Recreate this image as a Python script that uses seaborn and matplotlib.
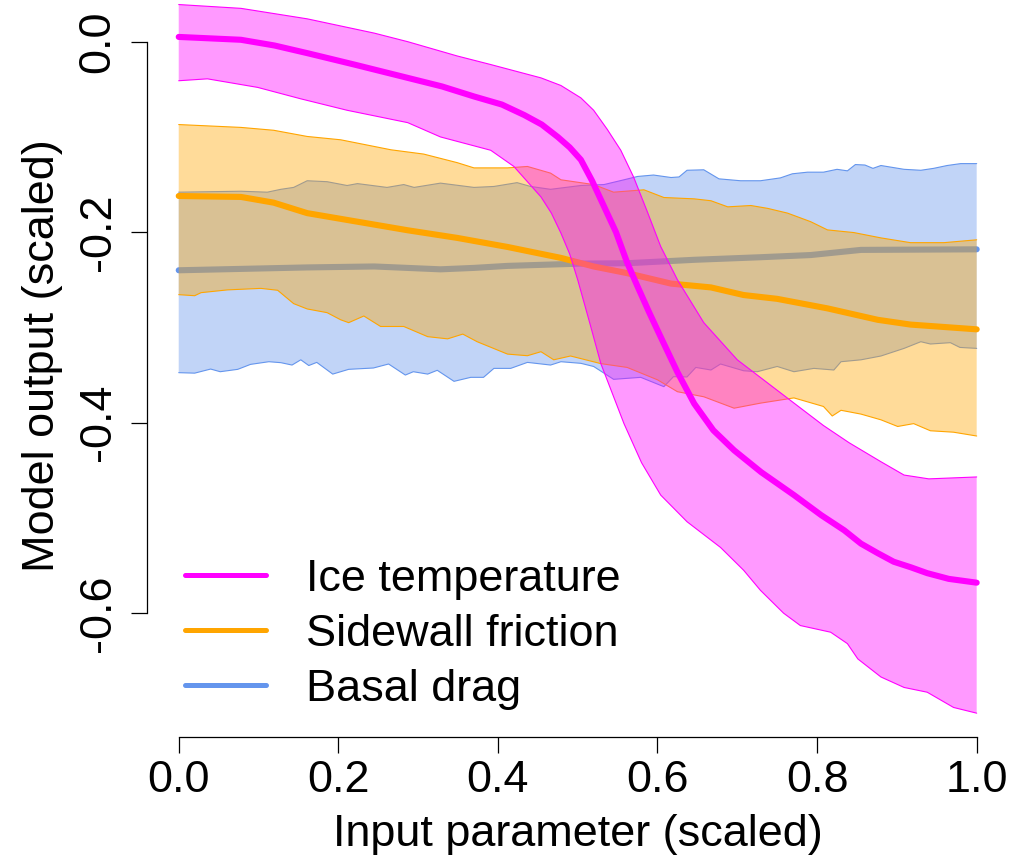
import numpy as np
import matplotlib
matplotlib.use("Agg")
import matplotlib.pyplot as plt
from matplotlib.lines import Line2D
from matplotlib.colors import to_rgba
import seaborn as sns

# ---------------- data ----------------
# Ice temperature
ice_mean_x = [0.0, 0.078, 0.120, 0.161, 0.220, 0.287, 0.330, 0.370, 0.405, 0.433, 0.455, 0.475,
              0.490, 0.504, 0.518, 0.533, 0.548, 0.562, 0.575, 0.590, 0.604, 0.625, 0.646, 0.670,
              0.696, 0.730, 0.771, 0.805, 0.834, 0.855, 0.876, 0.896, 0.918, 0.938, 0.965, 1.0]
ice_mean_y = [0.005, 0.002, -0.004, -0.012, -0.024, -0.038, -0.047, -0.0575, -0.066, -0.077, -0.087, -0.100,
              -0.111, -0.124, -0.146, -0.173, -0.200, -0.232, -0.257, -0.285, -0.310, -0.347, -0.380, -0.408,
              -0.429, -0.452, -0.476, -0.497, -0.513, -0.527, -0.537, -0.546, -0.552, -0.558, -0.564, -0.568]
ice_upper_x = [0.0, 0.078, 0.161, 0.245, 0.287, 0.349, 0.391, 0.454, 0.479, 0.504, 0.520, 0.537,
               0.554, 0.570, 0.587, 0.604, 0.625, 0.658, 0.700, 0.750, 0.808, 0.840, 0.880, 0.909,
               0.940, 1.0]
ice_upper_y = [0.039, 0.035, 0.024, 0.009, 0.000, -0.015, -0.024, -0.038, -0.046, -0.059, -0.072, -0.092,
               -0.114, -0.142, -0.178, -0.215, -0.250, -0.295, -0.334, -0.366, -0.403, -0.421, -0.441, -0.455,
               -0.459, -0.457]
ice_lower_x = [0.0, 0.036, 0.099, 0.153, 0.211, 0.287, 0.328, 0.391, 0.420, 0.454, 0.467, 0.479,
               0.490, 0.500, 0.515, 0.529, 0.558, 0.580, 0.604, 0.637, 0.679, 0.708, 0.729, 0.758,
               0.779, 0.817, 0.838, 0.851, 0.880, 0.909, 0.938, 0.971, 1.0]
ice_lower_y = [-0.041, -0.039, -0.048, -0.060, -0.072, -0.085, -0.100, -0.114, -0.131, -0.163, -0.180, -0.201,
               -0.223, -0.250, -0.295, -0.338, -0.401, -0.442, -0.476, -0.504, -0.531, -0.555, -0.576, -0.600,
               -0.613, -0.620, -0.632, -0.648, -0.667, -0.678, -0.683, -0.699, -0.705]

# Sidewall friction
side_mean_x = [0.0, 0.078, 0.119, 0.161, 0.224, 0.287, 0.349, 0.412, 0.479, 0.520, 0.562,
               0.617, 0.667, 0.708, 0.750, 0.813, 0.876, 0.917, 1.0]
side_mean_y = [-0.162, -0.163, -0.169, -0.180, -0.189, -0.198, -0.206, -0.2155, -0.227, -0.236, -0.243,
               -0.254, -0.258, -0.266, -0.270, -0.280, -0.292, -0.297, -0.302]
side_upper_x = [0.0, 0.078, 0.119, 0.161, 0.203, 0.245, 0.266, 0.307, 0.349, 0.370, 0.412, 0.437,
                0.466, 0.479, 0.520, 0.545, 0.583, 0.608, 0.646, 0.667, 0.688, 0.717, 0.738, 0.763,
                0.792, 0.813, 0.846, 0.880, 0.917, 0.959, 1.0]
side_upper_y = [-0.087, -0.090, -0.093, -0.0995, -0.103, -0.110, -0.1135, -0.118, -0.127, -0.1325, -0.1325, -0.131,
                -0.138, -0.145, -0.150, -0.158, -0.1555, -0.1636, -0.165, -0.167, -0.1734, -0.172, -0.175, -0.180,
                -0.189, -0.1976, -0.2004, -0.206, -0.211, -0.211, -0.208]
side_lower_x = [0.0, 0.020, 0.028, 0.061, 0.103, 0.124, 0.144, 0.161, 0.186, 0.203, 0.213, 0.232,
                0.253, 0.282, 0.312, 0.337, 0.356, 0.374, 0.412, 0.437, 0.454, 0.470, 0.491, 0.529,
                0.562, 0.600, 0.625, 0.658, 0.696, 0.729, 0.771, 0.808, 0.819, 0.830, 0.855, 0.880,
                0.901, 0.921, 0.942, 0.971, 1.0]
side_lower_y = [-0.2656, -0.2667, -0.2635, -0.2606, -0.259, -0.261, -0.275, -0.2806, -0.2845, -0.292, -0.295, -0.288,
                -0.299, -0.299, -0.3097, -0.312, -0.307, -0.315, -0.328, -0.3297, -0.3255, -0.334, -0.330, -0.338,
                -0.342, -0.355, -0.3675, -0.3728, -0.3848, -0.3795, -0.374, -0.383, -0.393, -0.387, -0.391, -0.397,
                -0.404, -0.401, -0.4085, -0.410, -0.414]

# Basal drag
basal_mean_x = [0.0, 0.161, 0.245, 0.328, 0.370, 0.412, 0.504, 0.562, 0.646, 0.729, 0.792, 0.855, 1.0]
basal_mean_y = [-0.240, -0.237, -0.236, -0.239, -0.2375, -0.2354, -0.233, -0.2326, -0.229, -0.2263, -0.224,
                -0.2186, -0.218]
basal_upper_x = [0.0, 0.078, 0.111, 0.128, 0.144, 0.161, 0.186, 0.211, 0.224, 0.261, 0.282, 0.295,
                 0.328, 0.370, 0.395, 0.424, 0.441, 0.466, 0.504, 0.533, 0.558, 0.575, 0.595, 0.617,
                 0.627, 0.637, 0.658, 0.677, 0.704, 0.729, 0.754, 0.769, 0.788, 0.808, 0.825, 0.838,
                 0.848, 0.860, 0.870, 0.880, 0.909, 0.930, 0.946, 0.963, 0.980, 1.0]
basal_upper_y = [-0.158, -0.157, -0.158, -0.155, -0.153, -0.146, -0.147, -0.151, -0.149, -0.153, -0.150, -0.153,
                 -0.1485, -0.153, -0.152, -0.148, -0.152, -0.155, -0.151, -0.150, -0.145, -0.1415, -0.140, -0.1426,
                 -0.142, -0.135, -0.1345, -0.144, -0.146, -0.146, -0.143, -0.1387, -0.137, -0.137, -0.134, -0.1356,
                 -0.129, -0.1295, -0.133, -0.130, -0.134, -0.135, -0.133, -0.130, -0.128, -0.128]
basal_lower_x = [0.0, 0.020, 0.040, 0.052, 0.074, 0.090, 0.113, 0.128, 0.142, 0.153, 0.163, 0.173,
                 0.193, 0.213, 0.244, 0.263, 0.284, 0.294, 0.312, 0.324, 0.345, 0.366, 0.382, 0.395,
                 0.416, 0.437, 0.466, 0.479, 0.504, 0.520, 0.545, 0.579, 0.608, 0.620, 0.637, 0.648,
                 0.667, 0.679, 0.708, 0.725, 0.750, 0.771, 0.796, 0.821, 0.830, 0.855, 0.880, 0.909,
                 0.930, 0.942, 0.967, 0.979, 1.0]
basal_lower_y = [-0.3475, -0.348, -0.3437, -0.3465, -0.344, -0.3388, -0.336, -0.337, -0.3395, -0.334, -0.340, -0.3367,
                 -0.349, -0.344, -0.3426, -0.3384, -0.350, -0.3465, -0.349, -0.345, -0.3566, -0.3524, -0.3524, -0.343,
                 -0.343, -0.3367, -0.3395, -0.336, -0.3377, -0.341, -0.3545, -0.3524, -0.3622, -0.3517, -0.352, -0.342,
                 -0.3447, -0.3384, -0.3455, -0.3465, -0.341, -0.3465, -0.343, -0.3447, -0.336, -0.334, -0.330, -0.322,
                 -0.315, -0.3174, -0.316, -0.321, -0.322]

series_names = ["Ice temperature", "Sidewall friction", "Basal drag"]
x_ticks = [0.0, 0.2, 0.4, 0.6, 0.8, 1.0]
y_ticks = [-0.6, -0.4, -0.2, 0.0]
x_label = "Input parameter (scaled)"
y_label = "Model output (scaled)"

# ---------------- style ----------------
sns.set_style("ticks")
plt.rcParams["font.family"] = ["Liberation Sans", "DejaVu Sans"]
for k in ["text.color", "axes.labelcolor", "xtick.color", "ytick.color", "axes.edgecolor"]:
    plt.rcParams[k] = "black"
FS = 32.4
C_ICE = "#FF00FF"
C_SIDE = "#FFA500"
C_BASAL = "#6495ED"

W, H = 1019, 859
fig = plt.figure(figsize=(W / 100, H / 100), dpi=100)
# plot region in pixels (R style, top of region extends above the figure)
left_px, right_px = 146.8, 1008.6
bottom_px, top_px = 736.6, -24.6
ax = fig.add_axes([left_px / W, (H - bottom_px) / H,
                   (right_px - left_px) / W, (bottom_px - top_px) / H])
ax.set_xlim(-0.04, 1.04)
ax.set_ylim(-0.7296, 0.0696)

def band(xu, yu, xl, yl, mx, my, col):
    px = np.concatenate([xu, xl[::-1]])
    py = np.concatenate([yu, yl[::-1]])
    ax.fill(px, py, facecolor=to_rgba(col, 0.4), edgecolor="none", zorder=2)
    sns.lineplot(x=xu, y=yu, ax=ax, color=col, linewidth=0.8, zorder=2)
    sns.lineplot(x=xl, y=yl, ax=ax, color=col, linewidth=0.8, zorder=2)
    sns.lineplot(x=mx, y=my, ax=ax, color=col, linewidth=4.4, zorder=2,
                 solid_capstyle="round", solid_joinstyle="round")

band(np.array(basal_upper_x), np.array(basal_upper_y), np.array(basal_lower_x), np.array(basal_lower_y),
     np.array(basal_mean_x), np.array(basal_mean_y), C_BASAL)
band(np.array(side_upper_x), np.array(side_upper_y), np.array(side_lower_x), np.array(side_lower_y),
     np.array(side_mean_x), np.array(side_mean_y), C_SIDE)
band(np.array(ice_upper_x), np.array(ice_upper_y), np.array(ice_lower_x), np.array(ice_lower_y),
     np.array(ice_mean_x), np.array(ice_mean_y), C_ICE)

# axes like base R
for s in ["top", "right"]:
    ax.spines[s].set_visible(False)
for s in ["left", "bottom"]:
    ax.spines[s].set_linewidth(0.9)
    ax.spines[s].set_color("black")
ax.spines["left"].set_bounds(-0.6, 0.0)
ax.spines["bottom"].set_bounds(0.0, 1.0)
ax.set_xticks(x_ticks)
ax.set_xticklabels([f"{v:.1f}" for v in x_ticks], fontsize=FS)
ax.set_yticks(y_ticks)
ax.set_yticklabels([f"{v:.1f}" for v in y_ticks], fontsize=FS, rotation=90, va="center")
ax.tick_params(axis="both", direction="out", length=11.2, width=0.9, color="black")
ax.tick_params(axis="x", pad=6.0)
ax.tick_params(axis="y", pad=9.0)
ax.grid(False)

ax.set_xlabel(x_label, fontsize=FS)
ax.set_ylabel(y_label, fontsize=FS)
ax.xaxis.set_label_coords(0.5, (bottom_px - 814) / (bottom_px - top_px))
ax.yaxis.set_label_coords((63 - left_px) / (right_px - left_px), 0.5)

handles = [Line2D([0], [0], color=c, lw=3.6, solid_capstyle="round") for c in (C_ICE, C_SIDE, C_BASAL)]
leg = ax.legend(handles, series_names, loc="upper left",
                bbox_to_anchor=((185 - left_px) / (right_px - left_px), (bottom_px - 559) / (bottom_px - top_px)),
                frameon=False, fontsize=FS, handlelength=1.8, handletextpad=0.9,
                labelspacing=0.31, borderpad=0, borderaxespad=0)

fig.savefig("out.png", dpi=100)
